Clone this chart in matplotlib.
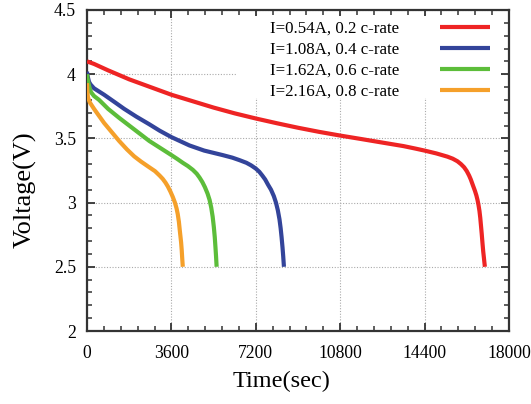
import numpy as np
import matplotlib
matplotlib.use("Agg")
import matplotlib.pyplot as plt
from matplotlib.ticker import MultipleLocator
from matplotlib.patches import Rectangle

# ---------------- data ----------------
t_02c = [0, 300, 900, 1800, 2700, 3600, 4500, 5400, 6300, 7200, 8100, 9000, 9900,
         10800, 11700, 12514, 13500, 14000, 14400, 14900, 15371, 15600, 15800, 15950,
         16086, 16200, 16300, 16371, 16460, 16550, 16610, 16657, 16700, 16740, 16775,
         16800, 16835, 16871, 16900, 16930, 16950, 16971]
v_02c = [4.10, 4.08, 4.03, 3.96, 3.90, 3.84, 3.79, 3.74, 3.695, 3.655, 3.618, 3.583, 3.551,
         3.522, 3.495, 3.47, 3.44, 3.421, 3.405, 3.383, 3.358, 3.342, 3.322, 3.30,
         3.275, 3.245, 3.21, 3.18, 3.135, 3.09, 3.055, 3.02, 2.98, 2.935, 2.88,
         2.83, 2.76, 2.68, 2.62, 2.57, 2.535, 2.50]

t_04c = [0, 20, 86, 150, 300, 730, 1200, 1586, 2100, 2657, 3100, 3600, 4371, 5000, 5786,
         6200, 6514, 6800, 7000, 7200, 7350, 7480, 7600, 7720, 7850, 7970, 8060, 8140,
         8210, 8260, 8300, 8340, 8370, 8400]
v_04c = [4.02, 3.99, 3.94, 3.92, 3.89, 3.84, 3.78, 3.73, 3.67, 3.61, 3.56, 3.51, 3.445, 3.405, 3.37,
         3.35, 3.33, 3.31, 3.29, 3.265, 3.24, 3.21, 3.18, 3.14, 3.10, 3.05, 3.00, 2.94,
         2.87, 2.80, 2.73, 2.65, 2.58, 2.50]

t_06c = [0, 20, 50, 100, 170, 300, 514, 900, 1371, 1800, 2229, 2657, 3086, 3600, 3850,
         4086, 4300, 4514, 4680, 4800, 4920, 5030, 5143, 5230, 5300, 5360, 5410, 5450,
         5480, 5505, 5529]
v_06c = [4.00, 3.97, 3.94, 3.90, 3.86, 3.83, 3.80, 3.73, 3.66, 3.60, 3.54, 3.48, 3.43, 3.37, 3.34,
         3.31, 3.285, 3.255, 3.225, 3.195, 3.16, 3.12, 3.07, 3.02, 2.96, 2.89, 2.81, 2.73,
         2.65, 2.58, 2.50]

t_08c = [0, 15, 40, 120, 300, 730, 1371, 1700, 2014, 2300, 2657, 2900, 3100, 3229, 3350,
         3450, 3560, 3657, 3750, 3820, 3871, 3920, 3960, 3990, 4014, 4040, 4060, 4086]
v_08c = [3.93, 3.87, 3.82, 3.78, 3.73, 3.62, 3.48, 3.415, 3.36, 3.32, 3.275, 3.245, 3.21, 3.185, 3.155,
         3.125, 3.085, 3.045, 3.00, 2.955, 2.91, 2.85, 2.78, 2.73, 2.69, 2.63, 2.57, 2.50]

labels = ["I=0.54A, 0.2 c-rate", "I=1.08A, 0.4 c-rate",
          "I=1.62A, 0.6 c-rate", "I=2.16A, 0.8 c-rate"]
colors = ["#ee2424", "#33449a", "#5cbd3a", "#f5a02a"]

plt.rcParams['font.family'] = ['Liberation Serif', 'DejaVu Serif']

W, H = 531, 404
L, R, T, B = 87, 509, 10, 331          # axes box in pixels
fig = plt.figure(figsize=(W / 100, H / 100), dpi=100)
ax = fig.add_axes([L / W, 1 - B / H, (R - L) / W, (B - T) / H])

def fx(px): return (px - L) / (R - L)
def fy(py): return (B - py) / (B - T)

series = [(t_02c, v_02c), (t_04c, v_04c), (t_06c, v_06c), (t_08c, v_08c)]
for (t, v), lab, c in zip(series, labels, colors):
    ax.plot(t, v, color=c, lw=3.0, label=lab, solid_joinstyle="round",
            solid_capstyle="butt", zorder=3)

ax.set_xlim(0, 18000)
ax.set_ylim(2, 4.5)
ax.xaxis.set_major_locator(MultipleLocator(3600))
ax.xaxis.set_minor_locator(MultipleLocator(720))
ax.set_yticks([2, 2.5, 3, 3.5, 4, 4.5])
ax.set_yticklabels(["2", "2.5", "3", "3.5", "4", "4.5"])
ax.yaxis.set_minor_locator(MultipleLocator(0.1))

ax.tick_params(which="both", direction="in", top=True, right=True,
               labelsize=12.7, color="#333333")
ax.tick_params(axis="x", pad=10)
ax.tick_params(axis="y", pad=8)
ax.tick_params(which="major", length=6, width=1.3)
ax.tick_params(which="minor", length=3.5, width=1.1)
for s in ax.spines.values():
    s.set_linewidth(1.6)
    s.set_color("#333333")

ax.grid(True, which="major", ls=(0, (1, 1.5)), color="#aaaaaa", lw=0.8)

# white block behind the legend hides the grid there
ax.add_patch(Rectangle((fx(237), fy(98)), fx(500) - fx(237), fy(16) - fy(98),
                       transform=ax.transAxes, facecolor="white", edgecolor="none",
                       zorder=1.6))

ax.set_xlabel("Time(sec)", fontsize=17.5)
ax.xaxis.set_label_coords(0.462, fy(371))
ax.set_ylabel("Voltage(V)", fontsize=19)
ax.yaxis.set_label_coords(fx(37), fy(190))

leg = ax.legend(loc="upper right", bbox_to_anchor=(fx(492), fy(19)), markerfirst=False,
                fontsize=12.2, frameon=False, borderaxespad=0, borderpad=0.1,
                handlelength=2.96, handletextpad=2.4, labelspacing=0.29)
for line in leg.get_lines():
    line.set_linewidth(3.0)

fig.savefig("out.png", dpi=100)
